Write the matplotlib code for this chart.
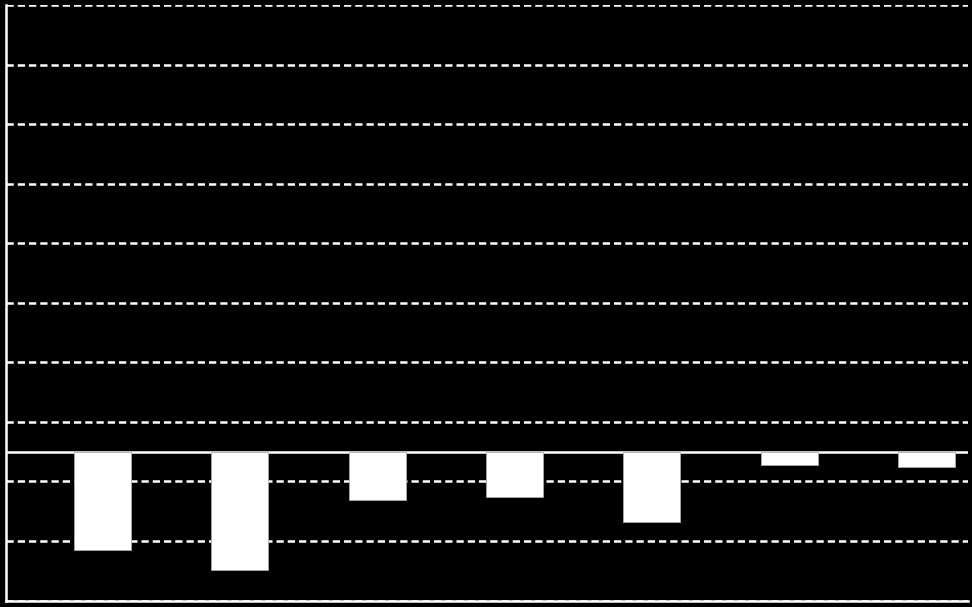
import matplotlib
matplotlib.use("Agg")
import matplotlib.pyplot as plt
import numpy as np

categories = ["A", "B", "C", "D", "E", "F", "G"]
values = [-1.65, -1.98, -0.82, -0.77, -1.18, -0.22, -0.25]
grid_ticks = [-2.5, -1.5, -0.5, 0.5, 1.5, 2.5, 3.5, 4.5, 5.5, 6.5, 7.5]

fig = plt.figure(figsize=(9.72, 6.07), dpi=100, facecolor="black")
ax = fig.add_axes([6/972, 6.5/607, 962/972, 595.5/607])
ax.set_facecolor("black")

x = np.arange(len(categories))
ax.bar(x + 0.2, values, width=0.415, color="white", edgecolor="#aaaaaa",
       linewidth=0.6, zorder=3)

ax.set_xlim(-0.5, len(categories) - 0.5)
ax.set_ylim(grid_ticks[0], grid_ticks[-1])
ax.set_yticks(grid_ticks)
ax.set_xticks([])
ax.tick_params(left=False, labelleft=False, bottom=False, labelbottom=False)
ax.grid(axis="y", color="white", linewidth=1.8, linestyle=(0, (2.9, 1.6)), zorder=1)
ax.axhline(0, color="white", linewidth=1.8, zorder=2)

for s in ["top", "right"]:
    ax.spines[s].set_visible(False)
for s in ["left", "bottom"]:
    ax.spines[s].set_color("white")
    ax.spines[s].set_linewidth(1.8)

fig.savefig("out.png", dpi=100, facecolor="black")
